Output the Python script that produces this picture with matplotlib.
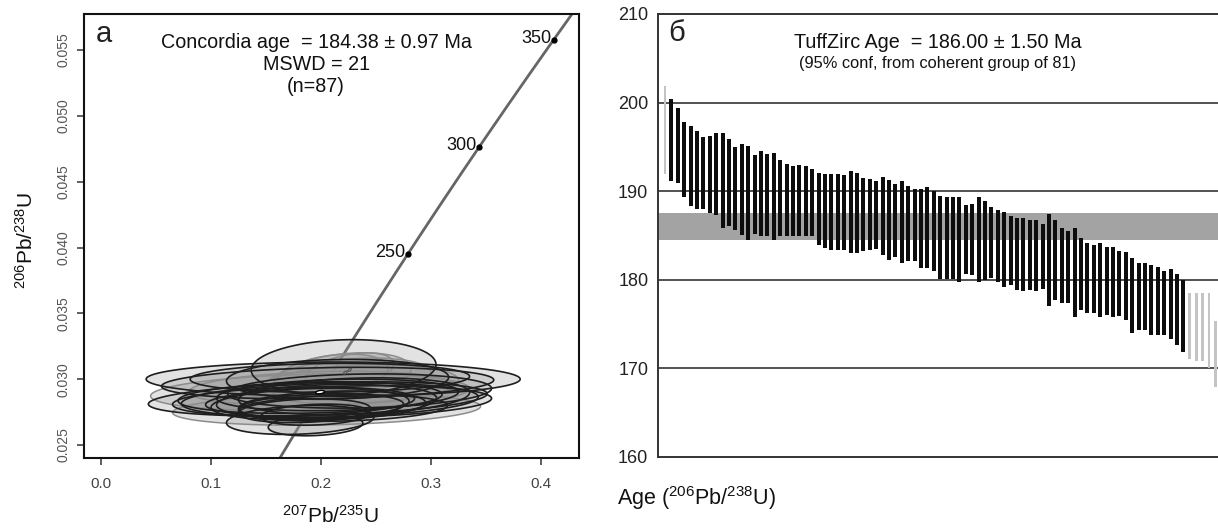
import numpy as np
import matplotlib.pyplot as plt
from matplotlib.patches import Polygon

plt.rcParams['font.family'] = ['Liberation Sans', 'DejaVu Sans']
plt.rcParams['mathtext.default'] = 'regular'

# --- U-Pb concordia (panel a) ---
LAMBDA_238 = 1.55125e-10
LAMBDA_235 = 9.8485e-10
age_marks = [250, 300, 350]
concordia_age = 184.38

# error ellipses: centre 207/235, centre 206/238, half-widths, correlation
dark_x = [0.211, 0.197, 0.2205, 0.208, 0.215, 0.206, 0.208, 0.181, 0.195, 0.215, 0.205,
          0.190, 0.230, 0.200, 0.185, 0.210, 0.225, 0.235, 0.195, 0.220, 0.190, 0.175]
dark_y = [0.0300, 0.0285, 0.0309, 0.0301, 0.0300, 0.0297, 0.0284, 0.0269, 0.0265, 0.0288, 0.0283,
          0.0281, 0.0287, 0.0279, 0.0276, 0.0280, 0.0283, 0.0291, 0.0273, 0.0278, 0.0286, 0.0283]
dark_sx = [0.170, 0.154, 0.084, 0.127, 0.101, 0.151, 0.135, 0.067, 0.043, 0.110, 0.100,
           0.090, 0.105, 0.075, 0.060, 0.085, 0.130, 0.120, 0.050, 0.095, 0.120, 0.110]
dark_sy = [0.0013, 0.0013, 0.0021, 0.0011, 0.0015, 0.0012, 0.0013, 0.0011, 0.0008, 0.0012, 0.0013,
           0.0012, 0.0014, 0.0010, 0.0009, 0.0011, 0.0012, 0.0013, 0.0008, 0.0010, 0.0012, 0.0011]
dark_rho = [0.0, 0.3, 0.1, 0.1, 0.1, 0.2, 0.2, 0.2, 0.2, 0.2, 0.2,
            0.2, 0.2, 0.2, 0.2, 0.2, 0.2, 0.15, 0.2, 0.2, 0.2, 0.2]

light_x = [0.211, 0.220, 0.225, 0.235, 0.200, 0.205, 0.190, 0.226]
light_y = [0.0304, 0.0303, 0.0300, 0.0296, 0.0293, 0.0277, 0.0290, 0.0306]
light_sx = [0.050, 0.062, 0.075, 0.090, 0.120, 0.140, 0.145, 0.040]
light_sy = [0.0015, 0.0017, 0.0016, 0.0015, 0.0013, 0.0012, 0.0014, 0.0014]
light_rho = [0.3, 0.3, 0.3, 0.2, 0.2, 0.2, 0.2, 0.4]

tiny_x = [0.222, 0.226]
tiny_y = [0.0305, 0.0307]

# --- TuffZirc ages (panel b) ---
age_hi = [201.9, 200.4, 199.4, 197.8, 197.4, 196.8, 196.1, 196.2, 196.6, 196.6,
          195.9, 195.0, 195.3, 195.1, 194.1, 194.5, 194.2, 194.3, 193.5, 193.1,
          192.8, 193.0, 192.8, 192.5, 192.0, 191.9, 191.9, 191.9, 191.8, 192.3,
          192.1, 191.5, 191.4, 191.2, 191.6, 191.3, 190.8, 191.1, 190.6, 190.3,
          190.2, 190.5, 190.0, 189.5, 189.3, 189.4, 189.4, 188.4, 188.6, 189.4,
          188.9, 188.2, 187.9, 187.7, 187.2, 187.0, 187.0, 186.7, 186.7, 186.3,
          187.4, 186.7, 185.9, 185.5, 185.9, 184.7, 184.1, 183.9, 184.2, 183.7,
          183.7, 183.3, 183.1, 182.5, 181.9, 181.9, 181.7, 181.5, 181.0, 181.2,
          180.7, 180.0, 178.5, 178.5, 178.5, 178.5, 175.4]
age_lo = [191.9, 191.1, 190.9, 189.3, 188.3, 188.0, 188.0, 187.5, 187.3, 185.8,
          186.1, 185.6, 185.1, 184.5, 185.2, 184.9, 184.9, 184.5, 184.9, 184.9,
          184.9, 184.9, 184.9, 184.9, 183.9, 183.6, 183.4, 183.4, 183.4, 183.0,
          183.0, 183.3, 183.4, 183.5, 182.8, 182.2, 182.6, 181.9, 182.1, 182.1,
          181.3, 181.3, 181.0, 180.1, 180.1, 180.1, 179.8, 180.7, 180.5, 179.7,
          180.0, 180.2, 179.7, 179.2, 179.4, 178.9, 178.7, 178.8, 178.7, 179.0,
          177.0, 177.7, 177.4, 177.4, 175.8, 176.6, 176.3, 176.2, 175.8, 176.0,
          175.8, 175.9, 175.5, 174.0, 174.3, 174.3, 173.8, 173.8, 173.8, 173.3,
          172.6, 171.9, 171.1, 170.8, 170.8, 170.0, 167.9]
rejected = [1, 83, 84, 85, 86, 87]
tuff_age = 186.00
tuff_err = 1.50


def ellipse_points(cx, cy, sx, sy, rho, n=240):
    t = np.linspace(0, 2 * np.pi, n)
    x = cx + sx * np.cos(t)
    y = cy + sy * (rho * np.cos(t) + np.sqrt(1 - rho ** 2) * np.sin(t))
    return np.column_stack([x, y])


fig = plt.figure(figsize=(12.18, 5.28), dpi=100)

# ---------------- panel a: concordia diagram ----------------
ax1 = fig.add_axes([0.06897, 0.13258, 0.40640, 0.84091])
ax1.set_xlim(-0.0155, 0.4345)
ax1.set_ylim(0.02401, 0.05774)

t = np.linspace(100, 420, 400) * 1e6
ax1.plot(np.exp(LAMBDA_235 * t) - 1, np.exp(LAMBDA_238 * t) - 1,
         color='#666666', lw=2.0, zorder=1)
for age in age_marks:
    xm = np.exp(LAMBDA_235 * age * 1e6) - 1
    ym = np.exp(LAMBDA_238 * age * 1e6) - 1
    ax1.plot(xm, ym, 'o', ms=3.5, color='black', zorder=5)
    ax1.annotate(str(age), (xm, ym), xytext=(-2, 1), textcoords='offset points',
                 ha='right', va='center', fontsize=13, color='#111')

# translucent fills first, then the outlines on top
ell_sets = [(dark_x, dark_y, dark_sx, dark_sy, dark_rho),
            (light_x, light_y, light_sx, light_sy, light_rho)]
for xs, ys, sxs, sys_, rhos in ell_sets:
    for cx, cy, sx, sy, r in zip(xs, ys, sxs, sys_, rhos):
        ax1.add_patch(Polygon(ellipse_points(cx, cy, sx, sy, r), closed=True,
                              facecolor='#9a9a9a', edgecolor='none', alpha=0.28,
                              zorder=2))
for cx, cy, sx, sy, r in zip(light_x, light_y, light_sx, light_sy, light_rho):
    ax1.add_patch(Polygon(ellipse_points(cx, cy, sx, sy, r), closed=True,
                          fill=False, edgecolor='#8c8c8c', lw=1.1, zorder=3))
for cx, cy, sx, sy, r in zip(dark_x, dark_y, dark_sx, dark_sy, dark_rho):
    ax1.add_patch(Polygon(ellipse_points(cx, cy, sx, sy, r), closed=True,
                          fill=False, edgecolor='#1e1e1e', lw=1.2, zorder=3))
for cx, cy in zip(tiny_x, tiny_y):
    ax1.add_patch(Polygon(ellipse_points(cx, cy, 0.0016, 0.00012, 0.6), closed=True,
                          fill=False, edgecolor='#555555', lw=0.8, zorder=4))

cx_c = np.exp(LAMBDA_235 * concordia_age * 1e6) - 1
cy_c = np.exp(LAMBDA_238 * concordia_age * 1e6) - 1
ax1.add_patch(Polygon(ellipse_points(cx_c, cy_c, 0.004, 0.00013, 0.3), closed=True,
                      facecolor='white', edgecolor='black', lw=1.0, zorder=4))

ax1.set_xticks([0.0, 0.1, 0.2, 0.3, 0.4])
ax1.set_xticklabels(['0.0', '0.1', '0.2', '0.3', '0.4'])
ax1.set_yticks([0.025, 0.030, 0.035, 0.040, 0.045, 0.050, 0.055])
ax1.set_yticklabels(['0.025', '0.030', '0.035', '0.040', '0.045', '0.050', '0.055'],
                    rotation=90, va='center')
ax1.tick_params(axis='x', length=5, width=1.2, pad=9, labelsize=11,
                colors='#444444', labelcolor='#444444')
ax1.tick_params(axis='y', length=5, width=1.2, pad=5, labelsize=10,
                colors='#444444', labelcolor='#555555')
for s in ax1.spines.values():
    s.set_linewidth(1.5)
    s.set_color('#111111')

ax1.text(0.04, 0.955, 'а', transform=ax1.transAxes, fontsize=21,
         ha='center', va='center', color='#222')
ax1.text(0.469, 0.935, 'Concordia age  = 184.38 ± 0.97 Ma', transform=ax1.transAxes,
         fontsize=14.2, ha='center', va='center', color='#111')
ax1.text(0.469, 0.886, 'MSWD = 21', transform=ax1.transAxes,
         fontsize=14.2, ha='center', va='center', color='#111')
ax1.text(0.469, 0.837, '(n=87)', transform=ax1.transAxes,
         fontsize=14.2, ha='center', va='center', color='#111')

fig.text(331 / 1218, 1 - 516 / 528, '$^{207}$Pb/$^{235}$U', fontsize=15,
         ha='center', va='center', color='#111')
fig.text(26 / 1218, 1 - 240 / 528, '$^{206}$Pb/$^{238}$U', fontsize=15,
         ha='center', va='center', rotation=90, color='#111')

# ---------------- panel b: TuffZirc age ranking ----------------
ax2 = fig.add_axes([0.54023, 0.13447, 0.45977, 0.83902])
ax2.set_xlim(-0.094, 87.4)
ax2.set_ylim(160, 210)

ax2.axhspan(tuff_age - tuff_err, tuff_age + tuff_err, color='#a3a3a3', lw=0, zorder=1)
for yg in [170, 180, 190, 200]:
    ax2.axhline(yg, color='#222222', lw=1.1, zorder=1.5)

idx = np.arange(1, len(age_hi) + 1)
hi = np.array(age_hi)
lo = np.array(age_lo)
bad = np.isin(idx, rejected)
ax2.bar(idx[~bad], hi[~bad] - lo[~bad], bottom=lo[~bad], width=0.62,
        color='#0d0d0d', zorder=2)
ax2.bar(idx[bad], hi[bad] - lo[bad], bottom=lo[bad], width=0.42,
        color='#c4c4c4', zorder=2)

ax2.set_xticks([])
ax2.set_yticks([160, 170, 180, 190, 200, 210])
ax2.tick_params(axis='y', length=0, pad=7, labelsize=13, labelcolor='#222222')
ax2.spines['right'].set_visible(False)
for s in ['left', 'top', 'bottom']:
    ax2.spines[s].set_linewidth(1.4)
    ax2.spines[s].set_color('#333333')

fig.text(677 / 1218, 1 - 33 / 528, 'б', fontsize=21, ha='center', va='center',
         color='#222')
fig.text(938 / 1218, 1 - 43 / 528, 'TuffZirc Age  = 186.00 ± 1.50 Ma', fontsize=14.2,
         ha='center', va='center', color='#111')
fig.text(938 / 1218, 1 - 63 / 528, '(95% conf, from coherent group of 81)', fontsize=11.8,
         ha='center', va='center', color='#111')
fig.text(617 / 1218, 1 - 498 / 528, 'Age ($^{206}$Pb/$^{238}$U)', fontsize=15.5,
         ha='left', va='center', color='#111')

fig.savefig('out.png', dpi=100)
